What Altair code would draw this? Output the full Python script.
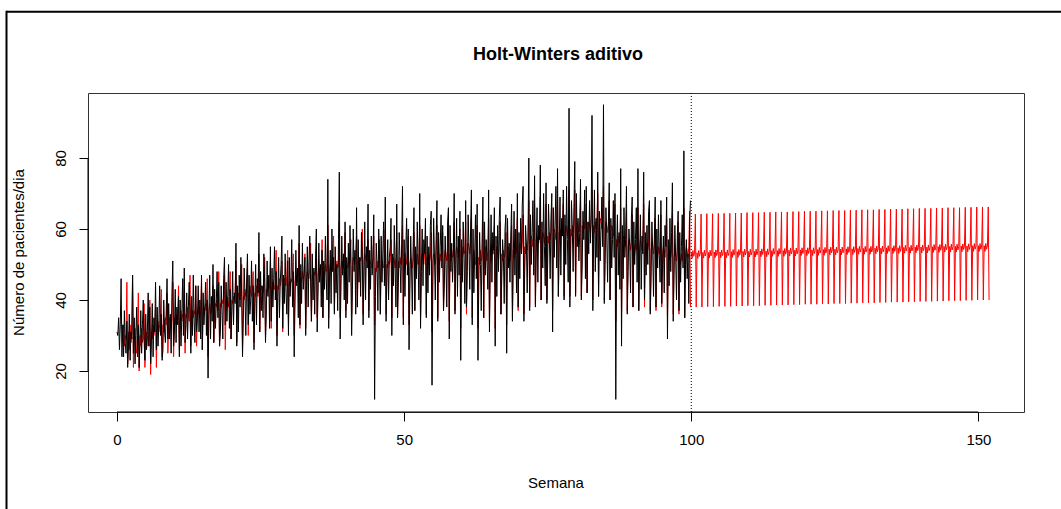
import altair as alt
import pandas as pd

# ---- observed daily series (weeks 0..99, 7 values per week) ----
observed = [
    31, 30, 35, 26, 33, 46, 24,
    33, 24, 37, 28, 25, 34, 21,
    27, 36, 23, 31, 29, 47, 25,
    35, 22, 30, 38, 24, 33, 21,
    28, 37, 25, 33, 40, 29, 23,
    36, 26, 31, 42, 27, 38, 22,
    29, 39, 24, 35, 31, 45, 26,
    38, 27, 33, 44, 30, 36, 23,
    26, 40, 31, 28, 37, 46, 29,
    39, 29, 36, 25, 42, 51, 27,
    31, 43, 28, 38, 33, 41, 24,
    40, 27, 35, 46, 30, 49, 28,
    33, 42, 29, 38, 45, 37, 25,
    41, 30, 47, 34, 28, 44, 31,
    35, 44, 31, 40, 29, 47, 26,
    42, 33, 38, 45, 30, 40, 18,
    36, 47, 29, 41, 34, 50, 28,
    43, 32, 39, 48, 35, 45, 27,
    31, 44, 37, 29, 46, 52, 33,
    45, 34, 41, 50, 32, 43, 29,
    37, 48, 33, 42, 39, 56, 27,
    44, 31, 47, 38, 52, 41, 24,
    35, 49, 42, 30, 45, 53, 33,
    47, 36, 40, 51, 34, 44, 26,
    39, 50, 33, 46, 42, 59, 31,
    48, 37, 44, 35, 53, 45, 28,
    36, 51, 41, 47, 32, 55, 34,
    49, 38, 46, 55, 40, 48, 27,
    41, 52, 35, 45, 50, 58, 32,
    47, 39, 53, 42, 36, 51, 30,
    52, 41, 46, 57, 38, 48, 24,
    40, 54, 44, 49, 35, 61, 33,
    50, 39, 56, 43, 47, 52, 30,
    44, 55, 38, 51, 58, 45, 34,
    53, 40, 49, 36, 52, 60, 31,
    41, 56, 45, 50, 38, 54, 35,
    51, 43, 58, 46, 40, 74, 32,
    45, 54, 39, 60, 48, 52, 36,
    55, 42, 50, 37, 57, 76, 29,
    44, 58, 47, 53, 40, 62, 35,
    52, 39, 56, 45, 61, 50, 30,
    43, 60, 48, 54, 36, 66, 38,
    57, 45, 52, 41, 59, 53, 33,
    46, 62, 40, 55, 49, 67, 35,
    54, 43, 58, 47, 52, 64, 12,
    41, 56, 50, 37, 60, 53, 36,
    58, 45, 53, 62, 44, 69, 34,
    47, 57, 40, 52, 55, 63, 30,
    53, 44, 61, 49, 38, 67, 35,
    45, 59, 51, 42, 56, 72, 33,
    57, 41, 54, 63, 47, 60, 26,
    43, 58, 49, 36, 55, 66, 37,
    55, 46, 62, 51, 40, 70, 32,
    48, 60, 44, 57, 53, 63, 35,
    58, 42, 55, 47, 61, 65, 16,
    46, 63, 52, 40, 57, 68, 34,
    59, 45, 55, 64, 49, 61, 37,
    44, 58, 50, 38, 62, 66, 29,
    61, 48, 56, 45, 53, 70, 36,
    50, 63, 41, 58, 47, 65, 23,
    57, 45, 62, 52, 39, 68, 38,
    48, 64, 55, 43, 60, 71, 33,
    60, 42, 53, 64, 46, 67, 23,
    45, 59, 50, 37, 56, 69, 35,
    62, 47, 57, 51, 43, 71, 31,
    50, 64, 45, 59, 54, 66, 27,
    58, 41, 61, 48, 63, 69, 36,
    46, 57, 52, 39, 60, 64, 25,
    63, 49, 56, 45, 58, 67, 34,
    51, 65, 47, 60, 42, 70, 38,
    59, 46, 63, 53, 67, 72, 34,
    48, 61, 56, 42, 58, 80, 37,
    64, 50, 59, 68, 47, 75, 38,
    53, 66, 45, 61, 57, 78, 40,
    62, 49, 70, 55, 44, 73, 39,
    51, 67, 58, 46, 63, 70, 31,
    66, 52, 61, 72, 49, 77, 41,
    55, 69, 47, 63, 58, 71, 40,
    64, 50, 72, 57, 45, 94, 38,
    53, 68, 60, 48, 66, 79, 41,
    70, 55, 63, 51, 59, 74, 40,
    49, 65, 57, 71, 46, 72, 42,
    62, 53, 68, 56, 64, 92, 37,
    57, 71, 48, 63, 52, 76, 41,
    65, 51, 60, 69, 55, 95, 39,
    50, 66, 58, 45, 62, 73, 40,
    63, 49, 57, 68, 52, 70, 12,
    54, 64, 47, 59, 43, 77, 27,
    61, 46, 66, 52, 57, 72, 36,
    48, 60, 55, 42, 63, 69, 38,
    62, 50, 57, 66, 45, 77, 37,
    51, 64, 43, 58, 53, 76, 40,
    59, 47, 61, 50, 65, 68, 36,
    46, 62, 54, 41, 57, 69, 38,
    60, 49, 64, 53, 45, 68, 39,
    50, 58, 42, 61, 55, 69, 29,
    57, 44, 63, 48, 59, 73, 34,
    47, 61, 52, 40, 58, 65, 37,
    59, 45, 55, 64, 49, 82, 35,
    50, 57, 46, 53, 39, 62, 68,
]

# ---- Holt-Winters fitted values (weeks 1..99) ----
fitted = [
    28, 33, 27, 30, 29, 45, 22,
    31, 26, 33, 28, 31, 47, 21,
    29, 32, 27, 25, 30, 42, 20,
    30, 27, 32, 28, 29, 39, 21,
    29, 31, 30, 27, 31, 40, 19,
    31, 29, 33, 30, 32, 38, 21,
    32, 34, 31, 33, 35, 43, 24,
    33, 31, 34, 35, 33, 42, 25,
    33, 35, 34, 32, 35, 45, 24,
    35, 33, 36, 34, 35, 44, 26,
    35, 37, 34, 36, 35, 46, 25,
    36, 35, 38, 36, 34, 47, 27,
    36, 37, 35, 37, 36, 44, 27,
    37, 36, 38, 35, 37, 45, 26,
    36, 38, 37, 39, 37, 46, 24,
    37, 39, 36, 38, 38, 44, 28,
    38, 39, 38, 40, 37, 48, 27,
    39, 38, 40, 39, 41, 47, 26,
    39, 41, 40, 38, 41, 48, 29,
    40, 39, 41, 40, 42, 51, 28,
    40, 42, 41, 40, 42, 50, 27,
    41, 40, 43, 41, 43, 49, 30,
    41, 44, 42, 41, 43, 48, 28,
    42, 41, 44, 42, 41, 53, 31,
    42, 44, 43, 42, 45, 52, 30,
    43, 42, 45, 43, 44, 51, 32,
    43, 45, 44, 43, 45, 54, 30,
    44, 43, 46, 44, 45, 51, 31,
    44, 46, 45, 44, 47, 54, 33,
    45, 44, 46, 45, 47, 53, 30,
    45, 47, 46, 45, 47, 56, 32,
    46, 45, 48, 46, 47, 53, 32,
    46, 48, 47, 46, 49, 56, 34,
    47, 46, 48, 47, 48, 54, 35,
    47, 49, 48, 47, 49, 57, 35,
    48, 47, 50, 48, 49, 61, 35,
    48, 50, 49, 48, 51, 58, 37,
    49, 48, 51, 49, 50, 62, 35,
    49, 51, 50, 49, 52, 59, 37,
    50, 49, 51, 50, 51, 57, 36,
    50, 52, 51, 50, 53, 58, 38,
    51, 50, 52, 51, 52, 60, 36,
    51, 53, 52, 51, 53, 57, 37,
    50, 51, 50, 49, 52, 58, 33,
    49, 48, 51, 49, 50, 57, 36,
    49, 51, 50, 49, 52, 60, 36,
    50, 49, 51, 50, 51, 57, 35,
    50, 52, 51, 49, 52, 59, 36,
    51, 49, 52, 50, 51, 61, 35,
    51, 53, 52, 50, 53, 58, 33,
    50, 52, 50, 49, 52, 59, 37,
    51, 49, 53, 50, 51, 61, 35,
    51, 53, 52, 50, 53, 58, 36,
    52, 50, 53, 51, 52, 59, 31,
    51, 53, 52, 50, 54, 61, 35,
    52, 50, 53, 51, 52, 59, 37,
    52, 54, 53, 51, 54, 60, 34,
    53, 51, 54, 52, 53, 62, 37,
    53, 55, 54, 52, 55, 60, 32,
    54, 52, 55, 53, 54, 62, 36,
    54, 56, 55, 53, 56, 63, 35,
    52, 54, 52, 50, 54, 61, 32,
    52, 50, 54, 51, 52, 62, 35,
    53, 55, 53, 51, 54, 63, 34,
    54, 51, 54, 53, 53, 61, 32,
    52, 55, 54, 51, 55, 62, 36,
    53, 51, 54, 52, 53, 59, 33,
    53, 55, 54, 51, 55, 61, 35,
    54, 52, 55, 53, 54, 63, 37,
    54, 56, 55, 53, 56, 64, 36,
    55, 53, 56, 54, 57, 68, 38,
    56, 58, 57, 55, 58, 67, 39,
    57, 55, 58, 56, 58, 69, 40,
    57, 59, 58, 56, 59, 67, 40,
    58, 56, 59, 57, 59, 66, 37,
    58, 60, 59, 57, 60, 69, 41,
    59, 57, 60, 58, 60, 67, 41,
    59, 61, 60, 58, 61, 71, 41,
    60, 58, 61, 59, 61, 71, 42,
    60, 62, 61, 59, 62, 68, 41,
    61, 59, 62, 60, 62, 67, 42,
    60, 62, 61, 59, 62, 71, 40,
    61, 59, 62, 60, 62, 70, 41,
    61, 63, 62, 60, 62, 72, 40,
    60, 62, 61, 59, 61, 68, 40,
    59, 61, 60, 58, 60, 67, 34,
    57, 55, 58, 56, 57, 66, 36,
    56, 58, 57, 55, 57, 65, 37,
    55, 57, 56, 54, 56, 64, 38,
    55, 53, 56, 54, 56, 66, 37,
    55, 57, 56, 54, 57, 67, 38,
    55, 53, 56, 54, 56, 64, 37,
    54, 56, 55, 53, 56, 63, 37,
    54, 52, 55, 53, 55, 64, 38,
    53, 55, 54, 52, 55, 63, 35,
    53, 51, 54, 52, 54, 64, 36,
    52, 54, 53, 51, 54, 62, 36,
    52, 50, 53, 51, 54, 66, 35,
    53, 55, 54, 52, 55, 65, 38,
]

# ---- forecast (weeks 100..151) ----
forecast = [
    53.3, 51.7, 53.9, 52.3, 53.2, 64.2, 38.0,
    53.3, 51.7, 53.9, 52.3, 53.2, 64.2, 38.0,
    53.4, 51.8, 54.0, 52.4, 53.3, 64.3, 38.1,
    53.4, 51.8, 54.0, 52.4, 53.3, 64.3, 38.1,
    53.5, 51.9, 54.1, 52.5, 53.4, 64.4, 38.2,
    53.5, 51.9, 54.1, 52.5, 53.4, 64.4, 38.2,
    53.5, 51.9, 54.1, 52.5, 53.4, 64.4, 38.2,
    53.6, 52.0, 54.2, 52.6, 53.5, 64.5, 38.3,
    53.6, 52.0, 54.2, 52.6, 53.5, 64.5, 38.3,
    53.7, 52.1, 54.3, 52.7, 53.6, 64.6, 38.4,
    53.7, 52.1, 54.3, 52.7, 53.6, 64.6, 38.4,
    53.7, 52.1, 54.3, 52.7, 53.6, 64.6, 38.4,
    53.8, 52.2, 54.4, 52.8, 53.7, 64.7, 38.5,
    53.8, 52.2, 54.4, 52.8, 53.7, 64.7, 38.5,
    53.9, 52.3, 54.5, 52.9, 53.8, 64.8, 38.6,
    53.9, 52.3, 54.5, 52.9, 53.8, 64.8, 38.6,
    53.9, 52.3, 54.5, 52.9, 53.8, 64.8, 38.6,
    54.0, 52.4, 54.6, 53.0, 53.9, 64.9, 38.7,
    54.0, 52.4, 54.6, 53.0, 53.9, 64.9, 38.7,
    54.1, 52.5, 54.7, 53.1, 54.0, 65.0, 38.8,
    54.1, 52.5, 54.7, 53.1, 54.0, 65.0, 38.8,
    54.1, 52.5, 54.7, 53.1, 54.0, 65.0, 38.8,
    54.2, 52.6, 54.8, 53.2, 54.1, 65.1, 38.9,
    54.2, 52.6, 54.8, 53.2, 54.1, 65.1, 38.9,
    54.3, 52.7, 54.9, 53.3, 54.2, 65.2, 39.0,
    54.3, 52.7, 54.9, 53.3, 54.2, 65.2, 39.0,
    54.3, 52.7, 54.9, 53.3, 54.2, 65.2, 39.0,
    54.4, 52.8, 55.0, 53.4, 54.3, 65.3, 39.1,
    54.4, 52.8, 55.0, 53.4, 54.3, 65.3, 39.1,
    54.5, 52.9, 55.1, 53.5, 54.4, 65.4, 39.2,
    54.5, 52.9, 55.1, 53.5, 54.4, 65.4, 39.2,
    54.5, 52.9, 55.1, 53.5, 54.4, 65.4, 39.2,
    54.6, 53.0, 55.2, 53.6, 54.5, 65.5, 39.3,
    54.6, 53.0, 55.2, 53.6, 54.5, 65.5, 39.3,
    54.7, 53.1, 55.3, 53.7, 54.6, 65.6, 39.4,
    54.7, 53.1, 55.3, 53.7, 54.6, 65.6, 39.4,
    54.7, 53.1, 55.3, 53.7, 54.6, 65.6, 39.4,
    54.8, 53.2, 55.4, 53.8, 54.7, 65.7, 39.5,
    54.8, 53.2, 55.4, 53.8, 54.7, 65.7, 39.5,
    54.9, 53.3, 55.5, 53.9, 54.8, 65.8, 39.6,
    54.9, 53.3, 55.5, 53.9, 54.8, 65.8, 39.6,
    54.9, 53.3, 55.5, 53.9, 54.8, 65.8, 39.6,
    55.0, 53.4, 55.6, 54.0, 54.9, 65.9, 39.7,
    55.0, 53.4, 55.6, 54.0, 54.9, 65.9, 39.7,
    55.1, 53.5, 55.7, 54.1, 55.0, 66.0, 39.8,
    55.1, 53.5, 55.7, 54.1, 55.0, 66.0, 39.8,
    55.1, 53.5, 55.7, 54.1, 55.0, 66.0, 39.8,
    55.2, 53.6, 55.8, 54.2, 55.1, 66.1, 39.9,
    55.2, 53.6, 55.8, 54.2, 55.1, 66.1, 39.9,
    55.3, 53.7, 55.9, 54.3, 55.2, 66.2, 40.0,
    55.3, 53.7, 55.9, 54.3, 55.2, 66.2, 40.0,
    55.3, 53.7, 55.9, 54.3, 55.2, 66.2, 40.0,
]

x_ticks = [0, 50, 100, 150]
y_ticks = [20, 40, 60, 80]
title_text = "Holt-Winters aditivo"
x_title = "Semana"
y_title = "Número de pacientes/dia"
split_week = 100

FREQ = 7
obs_df = pd.DataFrame({"t": [i / FREQ for i in range(len(observed))], "v": observed})
fit_df = pd.DataFrame({"t": [(i + FREQ) / FREQ for i in range(len(fitted))], "v": fitted})
fc_df = pd.DataFrame({"t": [(i + len(observed)) / FREQ for i in range(len(forecast))], "v": forecast})

W, H = 936, 319
FONT = "Liberation Sans"

xs = alt.Scale(domain=[-5.05, 157.94], nice=False, zero=False)
ys = alt.Scale(domain=[8.45, 98.3], nice=False, zero=False)

x_axis = alt.Axis(values=x_ticks, domain=False, grid=False, title=None, tickSize=9,
                  tickColor="black", tickWidth=1, labelFont=FONT, labelFontSize=15,
                  labelColor="black", labelPadding=11, labelFlush=False)
y_axis = alt.Axis(values=y_ticks, domain=False, grid=False, title=None, tickSize=9,
                  tickColor="black", tickWidth=1, labelFont=FONT, labelFontSize=15,
                  labelColor="black", labelPadding=14, labelAngle=270,
                  labelAlign="center", labelBaseline="alphabetic", labelFlush=False)

X = alt.X("t:Q", scale=xs, axis=x_axis)
Y = alt.Y("v:Q", scale=ys, axis=y_axis)

fit_line = alt.Chart(fit_df).mark_line(color="#FF0000", strokeWidth=1).encode(x=X, y=Y)
fc_line = alt.Chart(fc_df).mark_line(color="#FF0000", strokeWidth=1).encode(x=X, y=Y)
obs_line = alt.Chart(obs_df).mark_line(color="#000000", strokeWidth=1).encode(x=X, y=Y)

one = pd.DataFrame({"a": [0]})
vline = alt.Chart(pd.DataFrame({"t": [split_week]})).mark_rule(
    color="black", strokeWidth=1, strokeDash=[1, 2]).encode(
    x=X, y=alt.value(0), y2=alt.value(H))

xaxis_line = alt.Chart(pd.DataFrame({"t": [x_ticks[0]], "b": [x_ticks[-1]]})).mark_rule(
    color="black", strokeWidth=1).encode(x=X, x2="b:Q", y=alt.value(H))
yaxis_line = alt.Chart(pd.DataFrame({"v": [y_ticks[0]], "b": [y_ticks[-1]]})).mark_rule(
    color="black", strokeWidth=1).encode(y=Y, y2="b:Q", x=alt.value(0))

frame_top = alt.Chart(one).mark_rule(color="black", strokeWidth=2).encode(
    x=alt.value(-81.5), x2=alt.value(1061), y=alt.value(-81.3))
frame_left = alt.Chart(one).mark_rule(color="black", strokeWidth=2).encode(
    x=alt.value(-81.5), y=alt.value(-82.3), y2=alt.value(500))

title_mark = alt.Chart(one).mark_text(font=FONT, fontSize=18, fontWeight="bold",
                                      color="black", baseline="middle", align="center").encode(
    x=alt.value(W / 2 + 2), y=alt.value(-38), text=alt.value(title_text))
xtitle_mark = alt.Chart(one).mark_text(font=FONT, fontSize=15, color="black",
                                       baseline="middle", align="center").encode(
    x=alt.value(W / 2), y=alt.value(390), text=alt.value(x_title))
ytitle_mark = alt.Chart(one).mark_text(font=FONT, fontSize=15, color="black", angle=270,
                                       baseline="middle", align="center").encode(
    x=alt.value(-69), y=alt.value(H / 2), text=alt.value(y_title))

chart = alt.layer(
    fit_line, fc_line, obs_line, vline, xaxis_line, yaxis_line,
    frame_top, frame_left, title_mark, xtitle_mark, ytitle_mark,
).properties(
    width=W, height=H,
    padding={"left": 88, "top": 93, "right": 37, "bottom": 97},
    autosize=alt.AutoSizeParams(type="none"),
    background="white",
).configure_view(stroke="#333333", strokeWidth=1)

chart.save("out.html", embed_options={"renderer": "svg", "actions": False})
